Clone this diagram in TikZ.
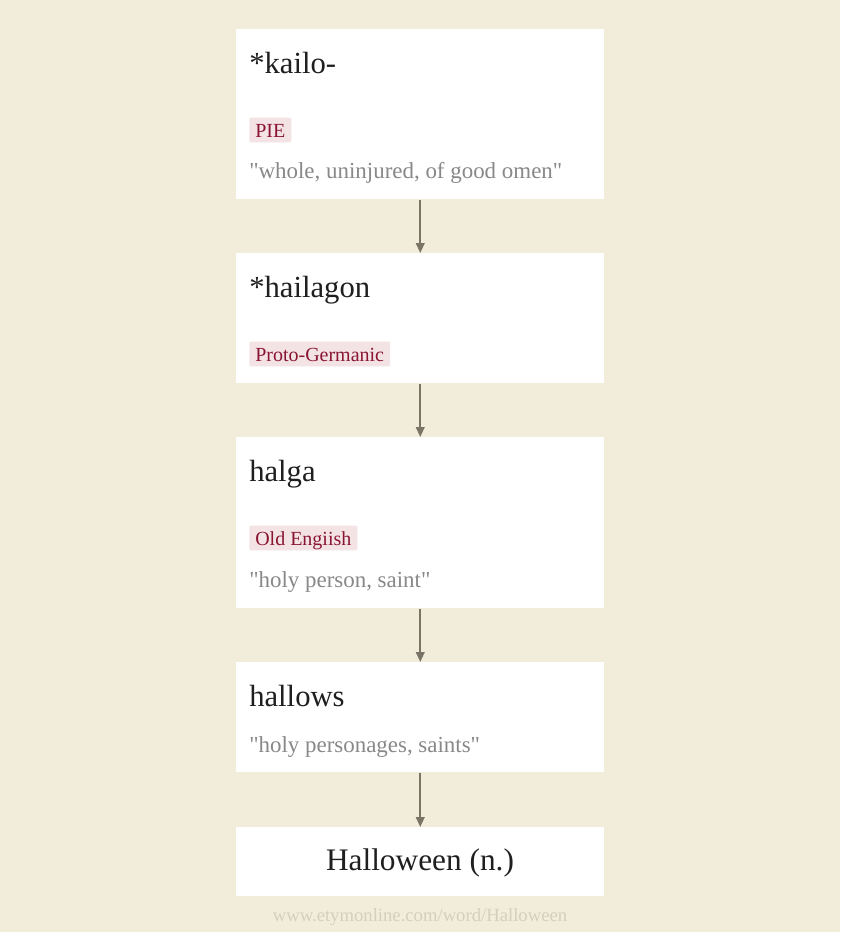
\documentclass[tikz,border=0pt]{standalone}
\usepackage{fontspec}
\setmainfont{Liberation Serif}
\newfontfamily\etymfont{Liberation Serif}
\usepackage{xcolor}
\usepackage{tikz}
\usetikzlibrary{arrows.meta,positioning,calc}
\definecolor{paper}{HTML}{F2ECDB}
\definecolor{tagbg}{HTML}{F3E3E5}
\definecolor{tagfg}{HTML}{8A1530}
\definecolor{glossfg}{HTML}{888888}
\definecolor{linkfg}{HTML}{7A7466}
\definecolor{footfg}{HTML}{D6CEBE}
\tikzset{
  entry/.style={fill=white, anchor=north west, minimum width=276pt, inner sep=0pt},
  headword/.style={anchor=base west, inner sep=0pt, text=black!88, font=\etymfont\fontsize{23}{27}\selectfont},
  langtag/.style={anchor=base west, fill=tagbg, text=tagfg, rounded corners=1pt, inner xsep=4.5pt, inner ysep=0pt, text height=14.5pt, text depth=4pt, font=\etymfont\fontsize{15}{17}\selectfont},
  gloss/.style={anchor=base west, inner sep=0pt, text=glossfg, font=\etymfont\fontsize{17.2}{20}\selectfont},
  link/.style={-{Triangle[length=7.5pt,width=6.5pt]}, line width=1.4pt, draw=linkfg},
}

\begin{document}
\begin{tikzpicture}[x=0.75pt,y=0.75pt]
  % Background
  \fill[paper] (0,0) rectangle (840,-932);
  \useasboundingbox (0,0) rectangle (840,-932);

  % Entry boxes
  \node[entry, minimum height=127.5pt] (kailo)     at (236,-29)  {};
  \node[entry, minimum height=97.5pt]  (hailagon)  at (236,-253) {};
  \node[entry, minimum height=128.25pt] (halga)    at (236,-437) {};
  \node[entry, minimum height=82.5pt]  (hallows)   at (236,-662) {};
  \node[entry, minimum height=51.75pt] (halloween) at (236,-827) {};

  % *kailo-
  \node[headword] at (249,-73) {*kailo-};
  \node[langtag]  at (249,-137) {PIE};
  \node[gloss]    at (249,-178) {"whole, uninjured, of good omen"};

  % *hailagon
  \node[headword] at (249,-297) {*hailagon};
  \node[langtag]  at (249,-361) {Proto-Germanic};

  % halga
  \node[headword] at (249,-481) {halga};
  \node[langtag]  at (249,-545) {Old Engiish};
  \node[gloss]    at (249,-587) {"holy person, saint"};

  % hallows
  \node[headword] at (249,-706) {hallows};
  \node[gloss]    at (249,-752) {"holy personages, saints"};

  % Halloween
  \node[anchor=base, inner sep=0pt, text=black!88, font=\etymfont\fontsize{23.5}{27}\selectfont] at (420,-870) {Halloween (n.)};

  % Links
  \draw[link] (kailo.south)    -- (hailagon.north);
  \draw[link] (hailagon.south) -- (halga.north);
  \draw[link] (halga.south)    -- (hallows.north);
  \draw[link] (hallows.south)  -- (halloween.north);

  % Footer
  \node[anchor=base, inner sep=0pt, text=footfg, font=\etymfont\fontsize{14}{16}\selectfont] at (420,-921) {www.etymonline.com/word/Halloween};
\end{tikzpicture}
\end{document}
